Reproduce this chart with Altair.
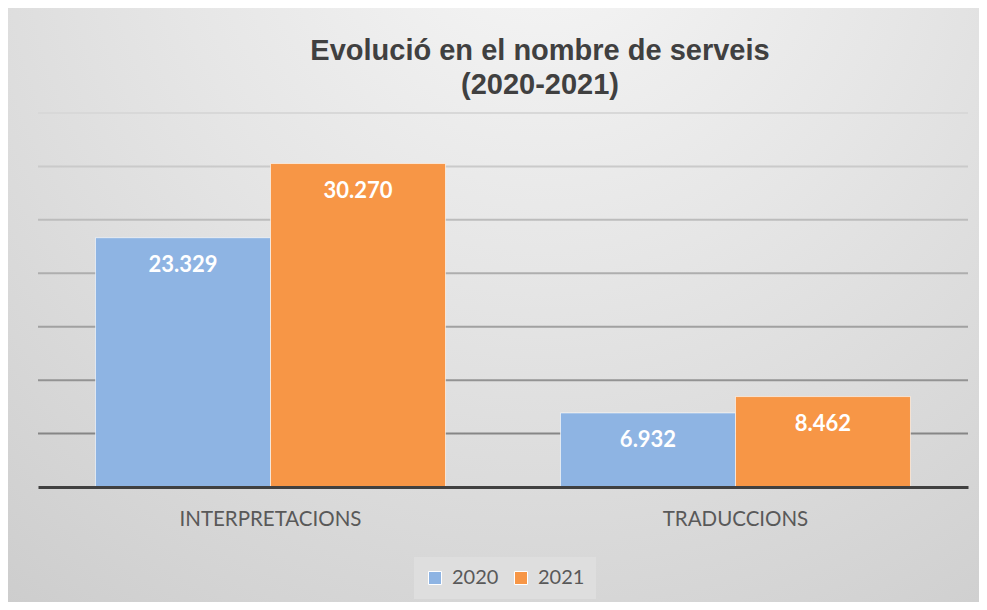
import altair as alt
import pandas as pd

# ---- data ----
categories = ["INTERPRETACIONS", "TRADUCCIONS"]
years = ["2020", "2021"]
values_2020 = [23329, 6932]
values_2021 = [30270, 8462]
grid_values = [5000, 10000, 15000, 20000, 25000, 30000, 35000]
title_lines = ["Evolució en el nombre de serveis", "(2020-2021)"]

rows = []
for cat, v in zip(categories, values_2020):
    rows.append({"cat": cat, "year": "2020", "value": v})
for cat, v in zip(categories, values_2021):
    rows.append({"cat": cat, "year": "2021", "value": v})
df = pd.DataFrame(rows)
df["label"] = df["value"].map(lambda v: f"{v:,}".replace(",", "."))

grid_df = pd.DataFrame({"g": grid_values})
bg_df = pd.DataFrame({"a": [0]})

W, H = 930, 374
PAD = {"left": 30, "top": 105, "right": 11, "bottom": 115}

x_enc = alt.X("cat:N", sort=categories,
              scale=alt.Scale(paddingInner=0.2473, paddingOuter=0.1237),
              axis=alt.Axis(title=None, ticks=False, labelAngle=0,
                            labelFont="Lato", labelFontSize=20.5,
                            labelColor="#595959", labelPadding=22,
                            labelLimit=400,
                            domainColor="#404040", domainWidth=3,
                            grid=False, zindex=1))
xo_enc = alt.XOffset("year:N", sort=years,
                     scale=alt.Scale(paddingInner=0, paddingOuter=0))
y_scale = alt.Scale(domain=[0, 35000], nice=False)

gradient = alt.RadialGradient(
    gradient="radial",
    x1=0.55, y1=0.08, r1=0,
    x2=0.55, y2=0.08, r2=1.1,
    stops=[
        alt.GradientStop(offset=0, color="#f7f7f7"),
        alt.GradientStop(offset=0.35, color="#e6e6e6"),
        alt.GradientStop(offset=0.7, color="#d4d4d4"),
        alt.GradientStop(offset=1, color="#c4c4c4"),
    ],
)

background = alt.Chart(bg_df).mark_rect(fill=gradient, stroke=None).encode(
    x=alt.value(-PAD["left"]),
    x2=alt.value(W + PAD["right"]),
    y=alt.value(-PAD["top"]),
    y2=alt.value(H + PAD["bottom"]),
)

grid = alt.Chart(grid_df).mark_rule(strokeWidth=2).encode(
    y=alt.Y("g:Q", scale=y_scale, axis=None),
    stroke=alt.Stroke("g:Q", legend=None,
                      scale=alt.Scale(domain=[5000, 35000],
                                      range=["#868686", "#d8d8d8"])),
)

bars = alt.Chart(df).mark_bar(stroke="white", strokeWidth=1, strokeOpacity=0.6).encode(
    x=x_enc,
    xOffset=xo_enc,
    y=alt.Y("value:Q", scale=y_scale, axis=None),
    color=alt.Color("year:N", sort=years,
                    scale=alt.Scale(domain=years, range=["#8eb4e3", "#f79646"]),
                    legend=alt.Legend(title=None, orient="none", direction="horizontal",
                                      legendX=376, legendY=444,
                                      fillColor="#dedede", padding=11,
                                      symbolType="square", symbolSize=169,
                                      symbolStrokeColor="white", symbolStrokeWidth=1,
                                      symbolOpacity=1,
                                      labelFont="Lato", labelFontSize=20,
                                      labelColor="#595959", labelOffset=7,
                                      columnPadding=12)),
)

labels = alt.Chart(df).mark_text(
    font="Lato", fontSize=22, fontWeight="bold", color="white",
    baseline="middle", dy=27,
).encode(
    x=alt.X("cat:N", sort=categories),
    xOffset=alt.XOffset("year:N", sort=years),
    y=alt.Y("value:Q", scale=y_scale, axis=None),
    text="label:N",
)

chart = alt.layer(background, grid, bars, labels).properties(
    width=W, height=H,
    padding=PAD,
    autosize=alt.AutoSizeParams(type="none"),
    title=alt.TitleParams(text=title_lines, font="Liberation Sans", fontSize=29,
                          fontWeight="bold", color="#404040", anchor="middle",
                          frame="group", dx=37, dy=92, offset=0, lineHeight=34),
    background="#d0d0d0",
).configure_view(stroke=None)

chart.save("out.html", embed_options={"renderer": "svg", "actions": False})
